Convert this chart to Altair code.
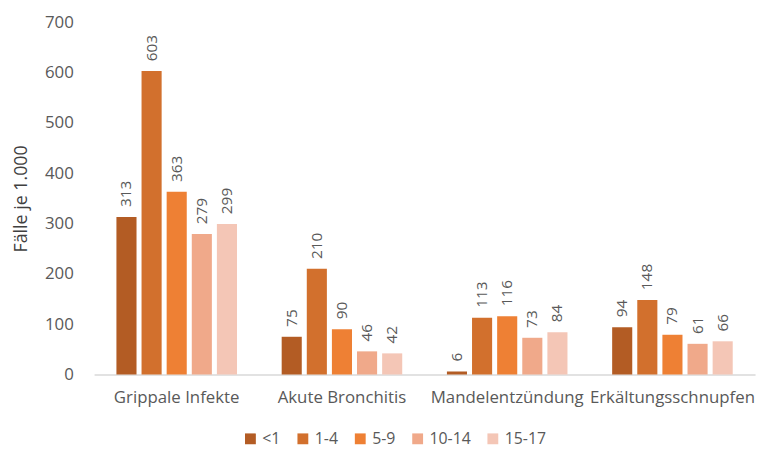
import altair as alt
import pandas as pd

categories = ["Grippale Infekte", "Akute Bronchitis", "Mandelentzündung", "Erkältungsschnupfen"]
age_groups = ["<1", "1-4", "5-9", "10-14", "15-17"]
values = {
    "<1": [313, 75, 6, 94],
    "1-4": [603, 210, 113, 148],
    "5-9": [363, 90, 116, 79],
    "10-14": [279, 46, 73, 61],
    "15-17": [299, 42, 84, 66],
}
colors = ["#B35C24", "#D2702D", "#EE8034", "#F0A98A", "#F4C6B6"]

rows = []
for g in age_groups:
    for c, v in zip(categories, values[g]):
        rows.append({"Kategorie": c, "Alter": g, "Wert": v})
df = pd.DataFrame(rows)

FONT = "Open Sans"
GRAY = "#595959"

base = alt.Chart(df).encode(
    x=alt.X("Kategorie:N", sort=categories, title=None,
            scale=alt.Scale(paddingInner=0.24, paddingOuter=0.12),
            axis=alt.Axis(labelAngle=0, labelFontSize=17, labelColor=GRAY, labelFont=FONT,
                          domainColor="#D9D9D9", domainWidth=1.5, ticks=False, labelPadding=15)),
    xOffset=alt.XOffset("Alter:N", sort=age_groups,
                        scale=alt.Scale(paddingInner=0.2, paddingOuter=0.1)),
    y=alt.Y("Wert:Q", title="Fälle je 1.000",
            scale=alt.Scale(domain=[0, 700]),
            axis=alt.Axis(values=[0, 100, 200, 300, 400, 500, 600, 700], grid=False, domain=False,
                          ticks=False, labelFontSize=17, labelColor=GRAY, labelFont=FONT,
                          labelPadding=21, titleFontSize=18, titleColor="#404040", titleFont=FONT,
                          titleFontWeight="normal", titlePadding=14)),
)

bars = base.mark_bar().encode(
    color=alt.Color("Alter:N", sort=age_groups,
                    scale=alt.Scale(domain=age_groups, range=colors),
                    legend=alt.Legend(title=None, orient="none", direction="horizontal",
                                      legendX=150, legendY=413, symbolType="square",
                                      symbolSize=120, labelFontSize=16, labelColor=GRAY,
                                      labelFont=FONT, columnPadding=14, symbolOpacity=1))
)

labels = base.mark_text(angle=270, align="left", baseline="middle", dx=10,
                        fontSize=15.5, color=GRAY, font=FONT).encode(text="Wert:Q")

chart = (bars + labels).properties(
    width=668, height=356,
    autosize=alt.AutoSizeParams(type="none"),
    padding={"left": 87, "top": 12, "right": 6, "bottom": 85},
).configure_view(stroke=None)

chart.save("out.html", embed_options={"renderer": "svg", "actions": False})
